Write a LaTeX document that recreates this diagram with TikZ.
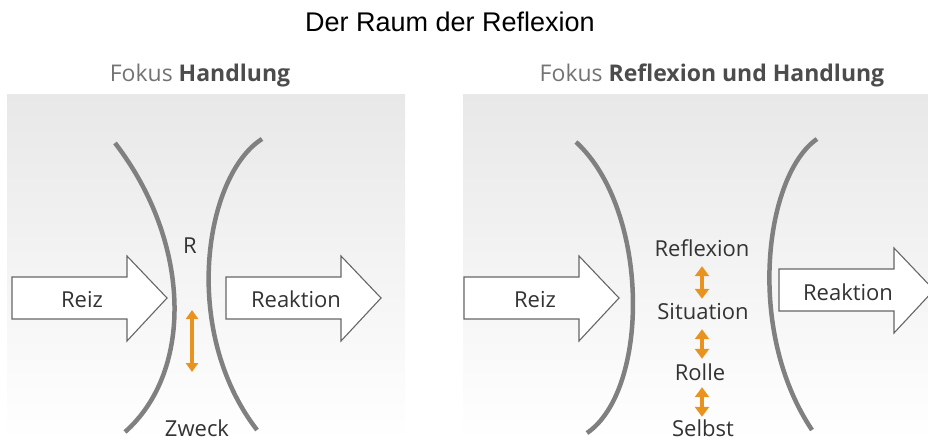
\documentclass[tikz,border=0pt]{standalone}
\usepackage{fontspec}
\setmainfont{Open Sans}
\newfontfamily\titlefont{Liberation Sans}
\usetikzlibrary{arrows.meta}
\definecolor{ochre}{RGB}{232,146,32}

\begin{document}
\begin{tikzpicture}[x=1pt, y=-1pt,
        panel/.style={top color=black!9, bottom color=white, draw=none},
        arcline/.style={draw=black!50, line width=4.5pt},
        bigarrow/.style={draw=black!60, fill=white, line width=1.1pt, line join=miter},
        lbl/.style={font=\fontsize{22}{26}\selectfont, text=black!80, anchor=base,
            inner sep=0pt, text height=16pt, text depth=5pt},
        sub/.style={font=\fontsize{23}{27}\selectfont, text=black!55, anchor=base, inner sep=0pt},
        link/.style={draw=ochre, line width=3.5pt, {Triangle[width=12pt,length=9pt]}-{Triangle[width=12pt,length=9pt]}},
        biglink/.style={draw=ochre, line width=4.5pt, {Triangle[width=14pt,length=10pt]}-{Triangle[width=14pt,length=10pt]}}]
        \useasboundingbox (0,0) rectangle (928,441);

        % title and panels
        \node[font=\titlefont\fontsize{27}{31}\selectfont, anchor=base] (title) at (450,32) {Der Raum der Reflexion};
        \shade[panel] (7,95) rectangle (405,441);
        \shade[panel] (463,95) rectangle (928,441);
        \node[sub] (fokusA) at (200,82) {Fokus {\color{black!70}\bfseries Handlung}};
        \node[sub] (fokusB) at (712,82) {Fokus {\color{black!70}\bfseries Reflexion und Handlung}};

        % left panel: Fokus Handlung
        \draw[arcline] (115,143) .. controls (190,240) and (195,370) .. (125,432);
        \draw[arcline] (262,139) .. controls (205,175) and (180,330) .. (257,430);
        \draw[bigarrow] (12,277) -- (127,277) -- (127,256) -- (167,298) -- (127,341) -- (127,319) -- (12,319) -- cycle;
        \draw[bigarrow] (226,277) -- (341,277) -- (341,256) -- (381,298) -- (341,341) -- (341,319) -- (226,319) -- cycle;
        \node[lbl] (reizA) at (82,307) {Reiz};
        \node[lbl] (reaktionA) at (296,307) {Reaktion};
        \node[lbl] (r) at (190,253) {R};
        \node[lbl] (zweck) at (197,436) {Zweck};
        \coordinate (rtop) at (192,310);
        \coordinate (rbot) at (192,372);
        \draw[link] (rtop) -- (rbot);

        % right panel: Fokus Reflexion und Handlung
        \draw[arcline] (576,142) .. controls (650,210) and (650,390) .. (587,433);
        \draw[arcline] (817,139) .. controls (765,175) and (745,330) .. (812,430);
        \draw[bigarrow] (464,277) -- (579,277) -- (579,256) -- (619,298) -- (579,341) -- (579,319) -- (464,319) -- cycle;
        \draw[bigarrow] (779,269) -- (894,269) -- (894,248) -- (934,290) -- (894,333) -- (894,311) -- (779,311) -- cycle;
        \node[lbl] (reizB) at (535,307) {Reiz};
        \node[lbl] (reaktionB) at (848,300) {Reaktion};
        \node[lbl] (refl) at (702,256) {Reflexion};
        \node[lbl] (sit) at (703,319) {Situation};
        \node[lbl] (rolle) at (700,380) {Rolle};
        \node[lbl] (selbst) at (703,436) {Selbst};
        \draw[biglink, shorten <=5pt, shorten >=4pt] (refl.south -| 702,0) -- (sit.north -| 702,0);
        \draw[biglink, shorten <=5pt, shorten >=5pt] (sit.south -| 702,0) -- (rolle.north -| 702,0);
        \draw[biglink, shorten <=2pt, shorten >=3pt] (rolle.south -| 702,0) -- (selbst.north -| 702,0);
\end{tikzpicture}
\end{document}
